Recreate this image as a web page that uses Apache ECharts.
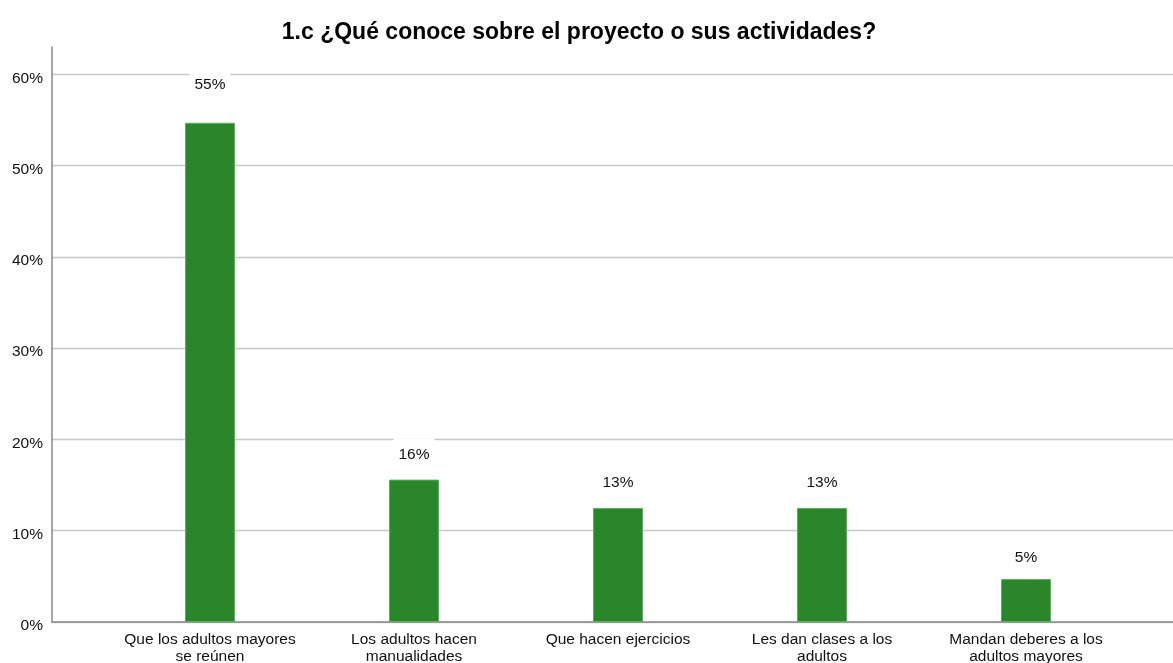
<!DOCTYPE html>
<html>
<head>
<meta charset="utf-8">
<script src="https://cdn.jsdelivr.net/npm/echarts@6/dist/echarts.min.js"></script>
<style>html,body{margin:0;padding:0;background:#fff;}#c{width:1173px;height:663px;}</style>
</head>
<body>
<div id="c"></div>
<script>
const titleText = '1.c ¿Qué conoce sobre el proyecto o sus actividades?';
const categories = [
  'Que los adultos mayores\nse reúnen',
  'Los adultos hacen\nmanualidades',
  'Que hacen ejercicios',
  'Les dan clases a los\nadultos',
  'Mandan deberes a los\nadultos mayores'
];
const percentValues = [54.7, 15.6, 12.5, 12.5, 4.7];
const yMax = 63;
const yInterval = 10;

// label placement style (gap above each bar, px)
const labelGaps = [22, 9, 9, 9, 5];

const chart = echarts.init(document.getElementById('c'), null, {renderer: 'canvas'});
const font = 'Liberation Sans, Arial, sans-serif';
const option = {
  backgroundColor: '#ffffff',
  animation: false,
  title: {
    text: titleText,
    left: 574,
    top: 16,
    textAlign: 'center',
    textStyle: {fontFamily: font, fontSize: 23, fontWeight: 'bold', color: '#000'}
  },
  grid: [
    {left: 52, right: 0, top: 47, bottom: 41, containLabel: false, outerBoundsMode: 'none'},
    {left: 108, right: 45, top: 47, bottom: 41, containLabel: false, outerBoundsMode: 'none'}
  ],
  xAxis: [
    {
      gridIndex: 0, type: 'value', min: 0, max: 1,
      axisLine: {show: true, lineStyle: {color: '#888', width: 1.5}},
      axisTick: {show: false}, axisLabel: {show: false}, splitLine: {show: false}
    },
    {
      gridIndex: 1, type: 'category', data: categories,
      axisLine: {show: false}, axisTick: {show: false},
      axisLabel: {
        margin: 9, fontFamily: font, fontSize: 15.5, color: '#111', lineHeight: 17, interval: 0
      }
    }
  ],
  yAxis: [
    {
      gridIndex: 0, type: 'value', min: 0, max: yMax, interval: yInterval,
      axisLine: {show: true, lineStyle: {color: '#888', width: 1.5}},
      axisTick: {show: false},
      axisLabel: {
        fontFamily: font, fontSize: 15.5, color: '#111', margin: 9, showMaxLabel: false,
        verticalAlign: 'top', padding: [-4, 0, 0, 0],
        formatter: v => (v % 10 === 0 ? v + '%' : '')
      },
      splitLine: {show: true, showMaxLine: false, lineStyle: {color: '#c8c8c8', width: 1.3}}
    },
    {
      gridIndex: 1, type: 'value', min: 0, max: yMax, interval: yInterval, show: false
    }
  ],
  series: [{
    type: 'bar',
    xAxisIndex: 1, yAxisIndex: 1,
    barWidth: 50,
    data: percentValues.map((v, i) => ({
      value: v,
      label: {distance: labelGaps[i]}
    })),
    itemStyle: {color: '#2a862a', borderColor: '#5fae5f', borderWidth: 1},
    label: {
      show: true, position: 'top',
      fontFamily: font, fontSize: 15.5, color: '#111',
      backgroundColor: '#ffffff', padding: [8, 5],
      formatter: p => Math.round(p.value) + '%'
    }
  }]
};
chart.setOption(option);
</script>
</body>
</html>
